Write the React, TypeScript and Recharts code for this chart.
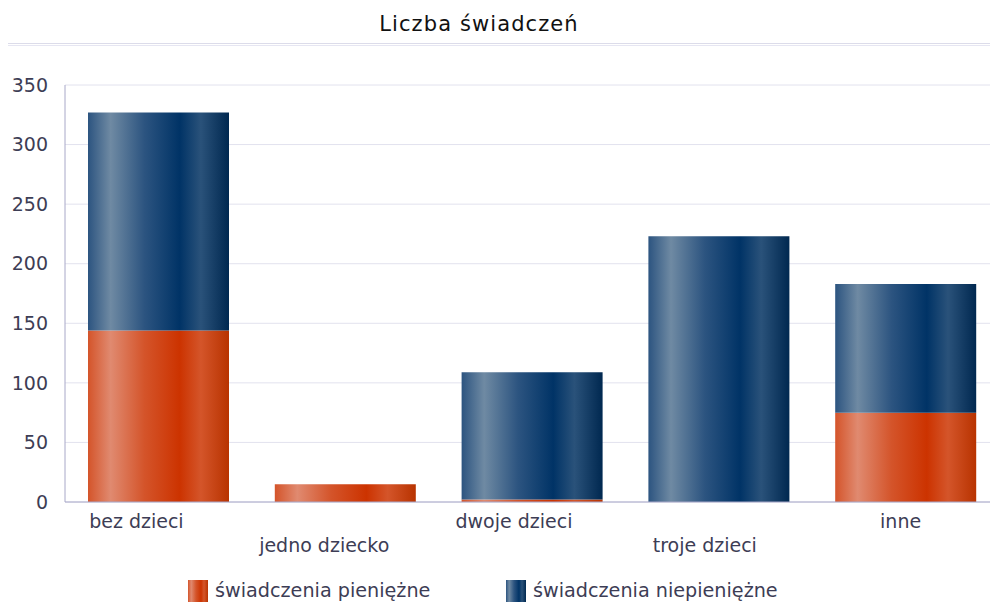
import { BarChart, Bar, XAxis, YAxis, CartesianGrid } from "recharts";

const categories = ["bez dzieci", "jedno dziecko", "dwoje dzieci", "troje dzieci", "inne"];
const pieniezne = [144, 15, 2, 0, 75];
const niepieniezne = [183, 0, 107, 223, 108];
const yTicks = [0, 50, 100, 150, 200, 250, 300, 350];

const data = categories.map((name, i) => ({
  name,
  pieniezne: pieniezne[i],
  niepieniezne: niepieniezne[i],
}));

const FONT = "'DejaVu Sans', Verdana, sans-serif";
const TEXT = "#3d3d55";

// horizontal nudges for the staggered category labels
const labelShift = [-22, -21, -18, -14, -5];

const XTick = (props: any) => {
  const { x, y, payload, index } = props;
  const row = index % 2;
  return (
    <text
      x={x + (labelShift[index] ?? 0)}
      y={y + 4 + row * 24}
      dy={14}
      textAnchor="middle"
      fill={TEXT}
      fontSize={19}
      fontFamily={FONT}
    >
      {payload.value}
    </text>
  );
};

const Swatch = ({ grad }: { grad: string }) => (
  <span
    style={{
      display: "inline-block",
      width: 20,
      height: 22,
      background: grad,
      marginRight: 7,
      verticalAlign: "middle",
    }}
  />
);

const orangeCss =
  "linear-gradient(90deg,#d4542a 0%,#e08a70 16%,#d4542a 40%,#cc3300 65%,#d4552a 80%,#b83300 100%)";
const blueCss =
  "linear-gradient(90deg,#2c5480 0%,#6f8aa3 16%,#2c5480 40%,#003366 65%,#2a527a 80%,#002850 100%)";

export default function App() {
  return (
    <div
      style={{
        position: "absolute",
        left: 0,
        top: 0,
        width: 990,
        height: 605,
        overflow: "hidden",
        background: "#fff",
        fontFamily: FONT,
      }}
    >
      <div
        style={{
          position: "absolute",
          top: 12,
          left: 0,
          width: 958,
          textAlign: "center",
          fontSize: 21,
          letterSpacing: 1.1,
          color: "#111",
        }}
      >
        Liczba świadczeń
      </div>
      <div
        style={{
          position: "absolute",
          top: 43,
          left: 8,
          right: 0,
          height: 1,
          borderTop: "1px solid #dcdcea",
          borderBottom: "1px solid #e6e6f2",
        }}
      />
      <BarChart
        width={999}
        height={605}
        data={data}
        margin={{ top: 85, right: 0, left: 0, bottom: 43 }}
        barCategoryGap={23}
      >
        <defs>
          <linearGradient id="gOrange" x1="0" y1="0" x2="1" y2="0">
            <stop offset="0%" stopColor="#d4542a" />
            <stop offset="16%" stopColor="#e08a70" />
            <stop offset="40%" stopColor="#d4542a" />
            <stop offset="65%" stopColor="#cc3300" />
            <stop offset="80%" stopColor="#d4552a" />
            <stop offset="100%" stopColor="#b83300" />
          </linearGradient>
          <linearGradient id="gBlue" x1="0" y1="0" x2="1" y2="0">
            <stop offset="0%" stopColor="#2c5480" />
            <stop offset="16%" stopColor="#6f8aa3" />
            <stop offset="40%" stopColor="#2c5480" />
            <stop offset="65%" stopColor="#003366" />
            <stop offset="80%" stopColor="#2a527a" />
            <stop offset="100%" stopColor="#002850" />
          </linearGradient>
        </defs>
        <CartesianGrid vertical={false} stroke="#e2e2ee" />
        <XAxis
          dataKey="name"
          height={60}
          interval={0}
          tickLine={false}
          axisLine={{ stroke: "#a8a8c8" }}
          tick={<XTick />}
        />
        <YAxis
          width={65}
          domain={[0, 350]}
          ticks={yTicks}
          tickLine={false}
          tickMargin={11}
          axisLine={{ stroke: "#a8a8c8" }}
          tick={{ fill: TEXT, fontSize: 19, fontFamily: FONT }}
        />
        <Bar dataKey="pieniezne" stackId="a" fill="url(#gOrange)" isAnimationActive={false} />
        <Bar dataKey="niepieniezne" stackId="a" fill="url(#gBlue)" isAnimationActive={false} />
      </BarChart>
      <div
        style={{
          position: "absolute",
          top: 578,
          left: 188,
          fontSize: 19.2,
          color: TEXT,
          whiteSpace: "nowrap",
        }}
      >
        <Swatch grad={orangeCss} />
        <span style={{ verticalAlign: "middle" }}>świadczenia pieniężne</span>
      </div>
      <div
        style={{
          position: "absolute",
          top: 578,
          left: 506,
          fontSize: 19.2,
          color: TEXT,
          whiteSpace: "nowrap",
        }}
      >
        <Swatch grad={blueCss} />
        <span style={{ verticalAlign: "middle" }}>świadczenia niepieniężne</span>
      </div>
    </div>
  );
}
